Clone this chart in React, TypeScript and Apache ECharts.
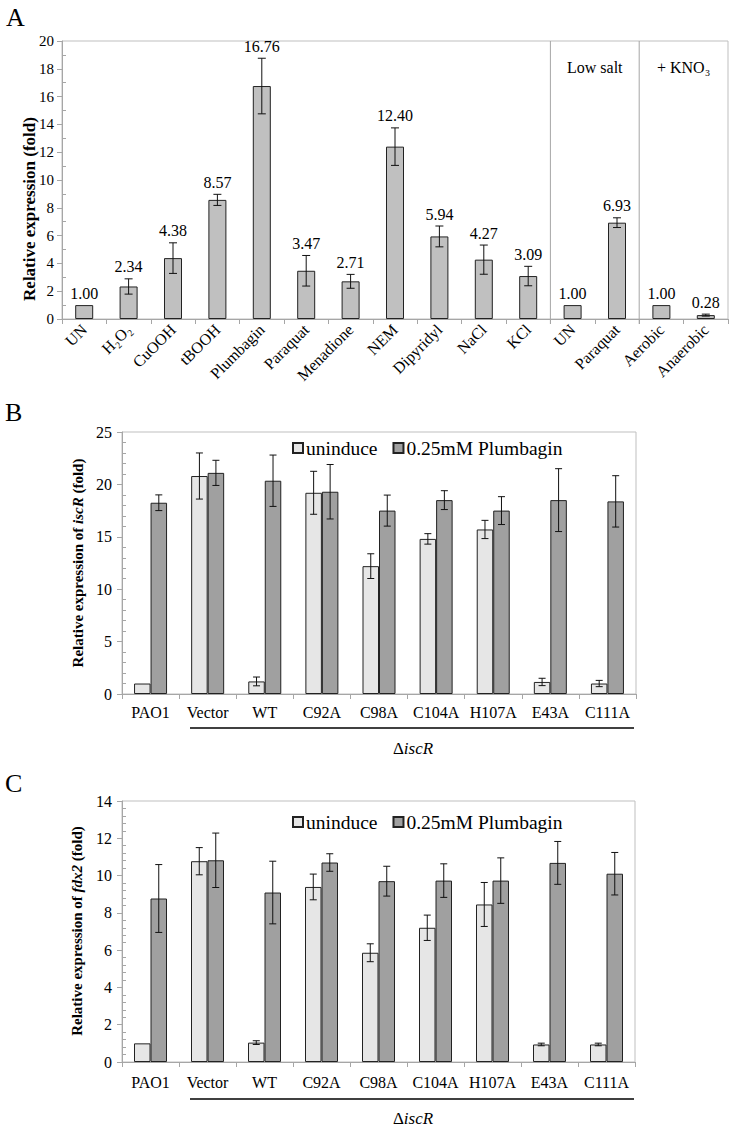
import React, { useEffect, useRef } from "react";
import * as echarts from "echarts";

const FONT = "'Liberation Serif', 'Times New Roman', serif";
const AXIS_GRAY = "#a6a6a6";
const BORDER_GRAY = "#bfbfbf";

// Panel A
const aCategories = ["UN", "H₂O₂", "CuOOH", "tBOOH", "Plumbagin", "Paraquat", "Menadione", "NEM", "Dipyridyl", "NaCl", "KCl", "UN", "Paraquat", "Aerobic", "Anaerobic"];
const aValues = [1.0, 2.34, 4.38, 8.57, 16.76, 3.47, 2.71, 12.4, 5.94, 4.27, 3.09, 1.0, 6.93, 1.0, 0.28];
const aErrors = [0, 0.55, 1.1, 0.4, 2.0, 1.1, 0.5, 1.35, 0.75, 1.05, 0.7, 0, 0.35, 0, 0.07];
const aGroupLabels = ["Low salt", "+ KNO₃"];
const aGroupStart = [11, 13];
const aMax = 20;
const aInterval = 2;

// Panels B and C
const strains = ["PAO1", "Vector", "WT", "C92A", "C98A", "C104A", "H107A", "E43A", "C111A"];
const seriesNames = ["uninduce", "0.25mM Plumbagin"];
const bUninduced = [1.0, 20.8, 1.2, 19.2, 12.2, 14.8, 15.7, 1.15, 1.0];
const bUninducedErr = [0, 2.2, 0.42, 2.05, 1.18, 0.5, 0.87, 0.35, 0.3];
const bPlumbagin = [18.25, 21.1, 20.35, 19.3, 17.5, 18.5, 17.5, 18.5, 18.38];
const bPlumbaginErr = [0.75, 1.2, 2.45, 2.6, 1.48, 0.9, 1.33, 3.0, 2.45];
const bMax = 25;
const bInterval = 5;

const cUninduced = [1.0, 10.77, 1.04, 9.39, 5.86, 7.2, 8.45, 0.94, 0.94];
const cUninducedErr = [0, 0.73, 0.1, 0.69, 0.48, 0.68, 1.18, 0.07, 0.07];
const cPlumbagin = [8.77, 10.82, 9.09, 10.7, 9.7, 9.73, 9.73, 10.68, 10.1];
const cPlumbaginErr = [1.82, 1.46, 1.68, 0.47, 0.8, 0.9, 1.22, 1.15, 1.14];
const cMax = 14;
const cInterval = 2;

const BAR_W = 16.5;

function errorBarRender(offset: number, cap: number, showLabel: boolean) {
  return (params: any, api: any) => {
    const i = api.value(0);
    const v = api.value(1);
    const e = api.value(2);
    const base = api.coord([i, v]);
    const top = api.coord([i, v + e]);
    const bot = api.coord([i, v - e]);
    const x = base[0] + offset;
    const children: any[] = [];
    const st = { stroke: "#111", lineWidth: 1 };
    if (e > 0) {
      children.push({ type: "line", shape: { x1: x, y1: top[1], x2: x, y2: bot[1] }, style: st });
      children.push({ type: "line", shape: { x1: x - cap / 2, y1: top[1], x2: x + cap / 2, y2: top[1] }, style: st });
      children.push({ type: "line", shape: { x1: x - cap / 2, y1: bot[1], x2: x + cap / 2, y2: bot[1] }, style: st });
    }
    if (showLabel) {
      children.push({
        type: "text",
        style: {
          text: v.toFixed(2),
          x,
          y: top[1] - 4,
          align: "center",
          verticalAlign: "bottom",
          fontSize: 16,
          fontFamily: FONT,
          fill: "#000",
        },
      });
    }
    return { type: "group", children };
  };
}

function valueAxis(gridIndex: number, max: number, interval: number, fontSize: number, margin: number) {
  return {
    type: "value",
    gridIndex,
    position: "left",
    min: 0,
    max,
    interval,
    axisLine: { show: true, lineStyle: { color: AXIS_GRAY, width: 1 } },
    axisTick: { show: true, length: 5, lineStyle: { color: AXIS_GRAY } },
    minorTick: { show: false },
    splitLine: { show: false },
    axisLabel: { fontSize, fontFamily: FONT, color: "#000", margin },
  };
}

// companion axis that only draws the minor ticks, pointing inward
function minorAxis(gridIndex: number, max: number, interval: number, minorSplit: number) {
  return {
    type: "value",
    gridIndex,
    position: "left",
    offset: 0,
    min: 0,
    max,
    interval,
    axisLine: { show: false },
    axisTick: { show: false, inside: true },
    minorTick: { show: true, splitNumber: minorSplit, length: 4, lineStyle: { color: AXIS_GRAY } },
    splitLine: { show: false },
    axisLabel: { show: false },
  };
}

function catAxis(gridIndex: number, data: string[], extra: any) {
  return {
    type: "category",
    gridIndex,
    data,
    axisLine: { show: true, lineStyle: { color: AXIS_GRAY, width: 1 } },
    axisTick: { show: true, length: 5, alignWithLabel: false, lineStyle: { color: AXIS_GRAY } },
    splitLine: { show: false },
    axisLabel: { interval: 0, fontFamily: FONT, color: "#000", ...extra },
  };
}

function groupedSeries(gi: number, uninduced: number[], uErr: number[], plumb: number[], pErr: number[]) {
  return [
    {
      name: seriesNames[0],
      type: "bar",
      xAxisIndex: gi,
      yAxisIndex: gi,
      data: uninduced,
      barWidth: BAR_W,
      barGap: "0%",
      itemStyle: { color: "#e6e6e6", borderColor: "#222", borderWidth: 1 },
    },
    {
      name: seriesNames[1],
      type: "bar",
      xAxisIndex: gi,
      yAxisIndex: gi,
      data: plumb,
      barWidth: BAR_W,
      barGap: "0%",
      itemStyle: { color: "#a0a0a0", borderColor: "#222", borderWidth: 1 },
    },
    {
      type: "custom",
      xAxisIndex: gi,
      yAxisIndex: gi,
      z: 5,
      renderItem: errorBarRender(-BAR_W / 2, 7, false),
      data: uninduced.map((v, i) => [i, v, uErr[i]]),
      silent: true,
    },
    {
      type: "custom",
      xAxisIndex: gi,
      yAxisIndex: gi,
      z: 5,
      renderItem: errorBarRender(BAR_W / 2, 7, false),
      data: plumb.map((v, i) => [i, v, pErr[i]]),
      silent: true,
    },
  ];
}

function axisTitle(x: number, y: number, text: string, fontSize: number) {
  return {
    type: "text",
    x,
    y,
    rotation: Math.PI / 2,
    style: {
      text,
      align: "center",
      verticalAlign: "middle",
      fill: "#000",
      rich: {
        b: { fontWeight: "bold", fontSize, fontFamily: FONT, fill: "#000" },
        bi: { fontWeight: "bold", fontStyle: "italic", fontSize, fontFamily: FONT, fill: "#000" },
      },
    },
  };
}

function panelLetter(x: number, y: number, text: string) {
  return {
    type: "text",
    x,
    y,
    style: { text, fontSize: 26, fontFamily: FONT, fill: "#000", align: "left", verticalAlign: "middle" },
  };
}

function deltaLabel(x: number, y: number) {
  return {
    type: "text",
    x,
    y,
    style: {
      text: "{n|Δ}{i|iscR}",
      align: "center",
      verticalAlign: "middle",
      rich: {
        n: { fontSize: 17, fontFamily: FONT, fill: "#000" },
        i: { fontSize: 17, fontFamily: FONT, fontStyle: "italic", fill: "#000" },
      },
    },
  };
}

const legendBase = {
  data: seriesNames,
  left: 292,
  padding: 0,
  icon: "rect",
  itemWidth: 10,
  itemHeight: 10,
  itemGap: 15,
  textStyle: { fontSize: 19.5, fontFamily: FONT, color: "#000", padding: [0, 0, 0, -2] },
};

export default function App() {
  const ref = useRef<HTMLDivElement>(null);
  useEffect(() => {
    if (!ref.current) return;
    const chart = echarts.init(ref.current, undefined, { renderer: "svg" });
    const option: any = {
      animation: false,
      backgroundColor: "#fff",
      textStyle: { fontFamily: FONT },
      grid: [
        { left: 62, top: 41, width: 666, height: 278, show: true, borderColor: BORDER_GRAY, borderWidth: 1, backgroundColor: "transparent" },
        { left: 122, top: 432, width: 514, height: 262, show: true, borderColor: BORDER_GRAY, borderWidth: 1, backgroundColor: "transparent" },
        { left: 122, top: 801, width: 513, height: 261, show: true, borderColor: BORDER_GRAY, borderWidth: 1, backgroundColor: "transparent" },
      ],
      xAxis: [
        catAxis(0, aCategories, { rotate: 45, fontSize: 16, margin: 8 }),
        catAxis(1, strains, { fontSize: 16, margin: 10 }),
        catAxis(2, strains, { fontSize: 16, margin: 12 }),
      ],
      yAxis: [
        valueAxis(0, aMax, aInterval, 15, 8),
        valueAxis(1, bMax, bInterval, 16, 10),
        valueAxis(2, cMax, cInterval, 16, 10),
        minorAxis(0, aMax, aInterval, 2),
        minorAxis(1, bMax, bInterval, 5),
        minorAxis(2, cMax, cInterval, 5),
      ],
      legend: [
        { ...legendBase, top: 438 },
        { ...legendBase, top: 812 },
      ],
      series: [
        {
          type: "bar",
          xAxisIndex: 0,
          yAxisIndex: 0,
          data: aValues,
          barWidth: 18,
          itemStyle: { color: "#c0c0c0", borderColor: "#222", borderWidth: 1 },
        },
        {
          type: "custom",
          xAxisIndex: 0,
          yAxisIndex: 0,
          z: 5,
          renderItem: errorBarRender(0, 8, true),
          data: aValues.map((v, i) => [i, v, aErrors[i]]),
          silent: true,
        },
        {
          type: "custom",
          xAxisIndex: 0,
          yAxisIndex: 0,
          z: 4,
          silent: true,
          data: aGroupStart.map((s) => [s, 0]),
          renderItem: (params: any, api: any) => {
            const s = api.value(0);
            const band = api.size([1, 0])[0];
            const p0 = api.coord([s, 0]);
            const pTop = api.coord([s, aMax]);
            const xb = p0[0] - band / 2;
            return {
              type: "group",
              children: [
                { type: "line", shape: { x1: xb, y1: pTop[1], x2: xb, y2: p0[1] + 5 }, style: { stroke: AXIS_GRAY, lineWidth: 1 } },
                {
                  type: "text",
                  style: {
                    text: aGroupLabels[params.dataIndex],
                    x: p0[0] + band / 2,
                    y: pTop[1] + 26,
                    align: "center",
                    verticalAlign: "middle",
                    fontSize: 16,
                    fontFamily: FONT,
                    fill: "#000",
                  },
                },
              ],
            };
          },
        },
        ...groupedSeries(1, bUninduced, bUninducedErr, bPlumbagin, bPlumbaginErr),
        ...groupedSeries(2, cUninduced, cUninducedErr, cPlumbagin, cPlumbaginErr),
      ],
      graphic: [
        panelLetter(6, 17, "A"),
        panelLetter(5, 412, "B"),
        panelLetter(5, 783, "C"),
        axisTitle(29, 209, "{b|Relative expression (fold)}", 17),
        axisTitle(78, 563, "{b|Relative expression of }{bi|iscR}{b| (fold)}", 15),
        axisTitle(77, 931, "{b|Relative expression of }{bi|fdx2}{b| (fold)}", 15),
        { type: "line", shape: { x1: 190, y1: 728, x2: 634, y2: 728 }, style: { stroke: "#000", lineWidth: 1.5 } },
        { type: "line", shape: { x1: 190, y1: 1099, x2: 634, y2: 1099 }, style: { stroke: "#000", lineWidth: 1.5 } },
        deltaLabel(413, 748),
        deltaLabel(413, 1118),
      ],
    };
    chart.setOption(option);
    return () => chart.dispose();
  }, []);
  return <div ref={ref} style={{ position: "absolute", left: 0, top: 0, width: 734, height: 1129 }} />;
}
